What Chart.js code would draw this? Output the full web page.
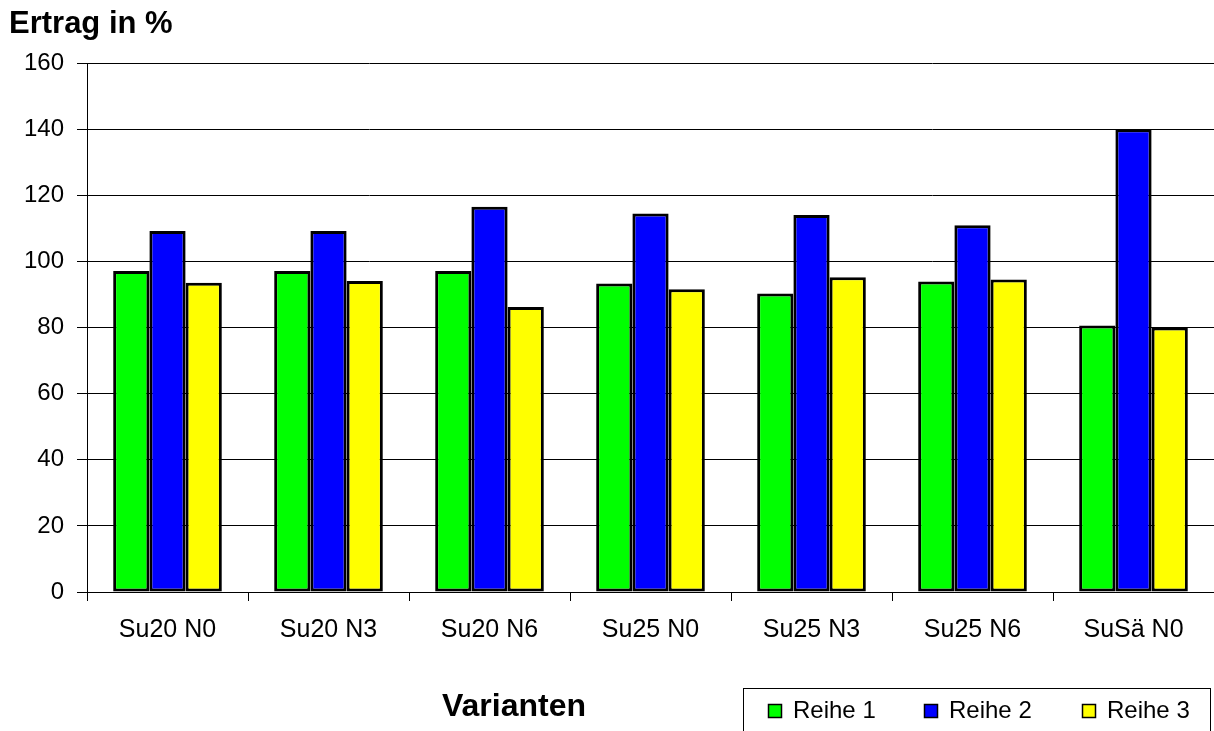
<!DOCTYPE html>
<html>
<head>
<meta charset="utf-8">
<script src="https://cdn.jsdelivr.net/npm/chart.js@4.4.0/dist/chart.umd.min.js"></script>
<style>
  html, body { margin: 0; padding: 0; background: #fff; }
  #wrap { width: 1214px; height: 731px; }
</style>
</head>
<body>
<div id="wrap"><canvas id="ertragChart" width="1214" height="731"></canvas></div>
<script>
// Varianten (x axis) and the three series
const categories = ["Su20 N0", "Su20 N3", "Su20 N6", "Su25 N0", "Su25 N3", "Su25 N6", "SuSä N0"];
const reihe1 = [97.1, 97.1, 97.1, 93.3, 90.3, 93.9, 80.6];
const reihe2 = [109.2, 109.2, 116.5, 114.5, 114.0, 110.9, 140.0];
const reihe3 = [93.5, 94.1, 86.2, 91.6, 95.2, 94.5, 80.0];
const seriesNames = ["Reihe 1", "Reihe 2", "Reihe 3"];
const seriesColors = ["#00ff00", "#0000ff", "#ffff00"];

const FONT = "'Liberation Sans', Arial, sans-serif";

// titles and legend box drawn on top of the chart
const extrasPlugin = {
    id: "extras",
    afterDraw(chart) {
        const ctx = chart.ctx;
        ctx.save();
        ctx.fillStyle = "#000";
        ctx.textBaseline = "alphabetic";

        // y axis title
        ctx.font = "bold 31px " + FONT;
        ctx.textAlign = "left";
        ctx.fillText("Ertrag in %", 9, 33);

        // x axis title
        ctx.font = "bold 32px " + FONT;
        ctx.textAlign = "center";
        ctx.fillText("Varianten", 514, 716);

        // legend
        ctx.strokeStyle = "#000";
        ctx.lineWidth = 1;
        ctx.strokeRect(743.5, 688.5, 467, 60);
        const boxX = [768, 924, 1082];
        ctx.font = "24px " + FONT;
        ctx.textAlign = "left";
        ctx.textBaseline = "middle";
        chart.data.datasets.forEach((ds, i) => {
            ctx.fillStyle = ds.backgroundColor;
            ctx.fillRect(boxX[i], 704, 14, 14);
            ctx.lineWidth = 1.5;
            ctx.strokeRect(boxX[i] + 0.5, 704.5, 13, 13);
            ctx.fillStyle = "#000";
            ctx.fillText(ds.label, boxX[i] + 25, 711);
        });
        ctx.restore();
    }
};

function renderChart() {
    const ctx = document.getElementById("ertragChart").getContext("2d");
    new Chart(ctx, {
        type: "bar",
        data: {
            labels: categories,
            datasets: [reihe1, reihe2, reihe3].map((vals, i) => ({
                label: seriesNames[i],
                data: vals,
                backgroundColor: seriesColors[i],
                borderColor: "#000",
                borderWidth: 3,
                borderSkipped: false,
                categoryPercentage: 0.675,
                barPercentage: 1.0
            }))
        },
        options: {
            responsive: false,
            animation: false,
            layout: { padding: { top: 63, left: 0, right: 0, bottom: 0 } },
            plugins: {
                legend: { display: false },
                tooltip: { enabled: false }
            },
            scales: {
                x: {
                    grid: {
                        offset: true,
                        drawOnChartArea: false,
                        color: "#000",
                        tickLength: 9
                    },
                    border: { color: "#000", width: 1 },
                    ticks: {
                        color: "#000",
                        font: { family: FONT, size: 25 },
                        padding: 14,
                        maxRotation: 0
                    },
                    afterFit(scale) { scale.height = 139; }
                },
                y: {
                    min: 0,
                    max: 160,
                    grid: { color: "#000", tickLength: 10 },
                    border: { color: "#000", width: 1 },
                    ticks: {
                        stepSize: 20,
                        color: "#000",
                        font: { family: FONT, size: 24 },
                        padding: 13
                    },
                    afterFit(scale) { scale.width = 87; }
                }
            }
        },
        plugins: [extrasPlugin]
    });
}

document.addEventListener("DOMContentLoaded", renderChart);
</script>
</body>
</html>
